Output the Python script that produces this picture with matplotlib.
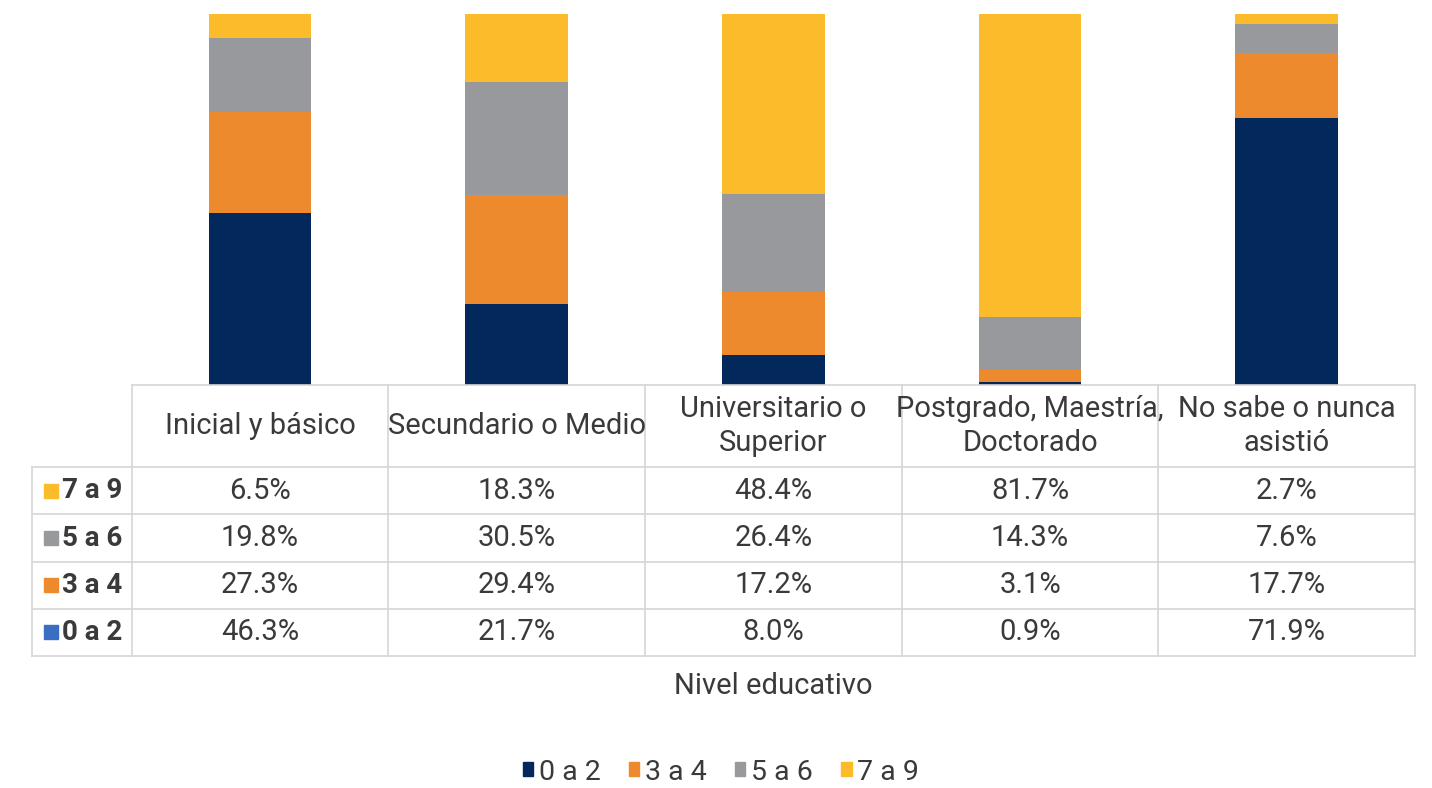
import matplotlib
matplotlib.use("Agg")
import matplotlib.pyplot as plt
from matplotlib.patches import Rectangle

categories = ["Inicial y básico", "Secundario o Medio", "Universitario o\nSuperior",
              "Postgrado, Maestría,\nDoctorado", "No sabe o nunca\nasistió"]
series_names = ["0 a 2", "3 a 4", "5 a 6", "7 a 9"]
v_0a2 = [46.3, 21.7, 8.0, 0.9, 71.9]
v_3a4 = [27.3, 29.4, 17.2, 3.1, 17.7]
v_5a6 = [19.8, 30.5, 26.4, 14.3, 7.6]
v_7a9 = [6.5, 18.3, 48.4, 81.7, 2.7]
values = [v_0a2, v_3a4, v_5a6, v_7a9]
bar_colors = ["#03295C", "#EE8A2E", "#97999C", "#FCBB2A"]
swatch_colors = ["#3A6EC2", "#EE8A2E", "#97999C", "#FCBB2A"]

plt.rcParams['font.family'] = ['Roboto', 'DejaVu Sans']
W, H = 1432, 788
fig = plt.figure(figsize=(W / 100, H / 100), dpi=100)

def frac(x0, y0, x1, y1):
    return [x0 / W, 1 - y1 / H, (x1 - x0) / W, (y1 - y0) / H]

# Bars
ax = fig.add_axes(frac(131.7, 14, 1415, 385))
x = list(range(len(categories)))
bottom = [0.0] * len(categories)
for name, vals, col in zip(series_names, values, bar_colors):
    ax.bar(x, vals, width=0.4, bottom=bottom, color=col, label=name)
    bottom = [b + v for b, v in zip(bottom, vals)]
ax.set_xlim(-0.5, len(categories) - 0.5)
ax.set_ylim(0, 100)
ax.axis('off')

# Table
label_w = 100 / 256.7
hdr_h = 82 / 47.0
nrows = len(series_names)
tax = fig.add_axes(frac(31.7, 385, 1415, 656))
xl = -0.5 - label_w
xr = len(categories) - 0.5
top = nrows + hdr_h
tax.set_xlim(xl, xr)
tax.set_ylim(0, top)
tax.axis('off')
lc = "#D6D6D6"
lw = 1.2
for r in range(nrows + 1):
    tax.plot([xl, xr], [r, r], color=lc, lw=lw, clip_on=False)
tax.plot([-0.5, xr], [top, top], color=lc, lw=lw, clip_on=False)
tax.plot([xl, xl], [0, nrows], color=lc, lw=lw, clip_on=False)
for c in range(len(categories) + 1):
    tax.plot([c - 0.5, c - 0.5], [0, top], color=lc, lw=lw, clip_on=False)

fs = 21
tc = "#3A3A3A"
for c, cat in enumerate(categories):
    tax.text(c, nrows + hdr_h / 2, cat, ha='center', va='center', fontsize=fs,
             color=tc, linespacing=1.3)
for r, (name, vals, sc) in enumerate(zip(series_names, values, swatch_colors)):
    yc = r + 0.5
    for c, v in enumerate(vals):
        tax.text(c, yc, f"{v:.1f}%", ha='center', va='center', fontsize=fs, color=tc)
    tax.plot([xl + 0.075], [yc], marker='s', markersize=10, color=sc, clip_on=False)
    tax.text(xl + 0.12, yc, name, ha='left', va='center', fontsize=20,
             color=tc, fontweight='bold')

fig.text(773 / W, 1 - 686 / H, "Nivel educativo", ha='center', va='center',
         fontsize=fs, color=tc)

handles = [Rectangle((0, 0), 1, 1, color=c) for c in bar_colors]
leg = fig.legend(handles, series_names, loc='center', bbox_to_anchor=(721 / W, 1 - 772 / H),
                 ncol=4, frameon=False, fontsize=20.5, handlelength=0.36, handleheight=0.36,
                 handletextpad=0.2, columnspacing=1.0, labelcolor=tc)

fig.savefig("out.png", dpi=100, facecolor='white')
